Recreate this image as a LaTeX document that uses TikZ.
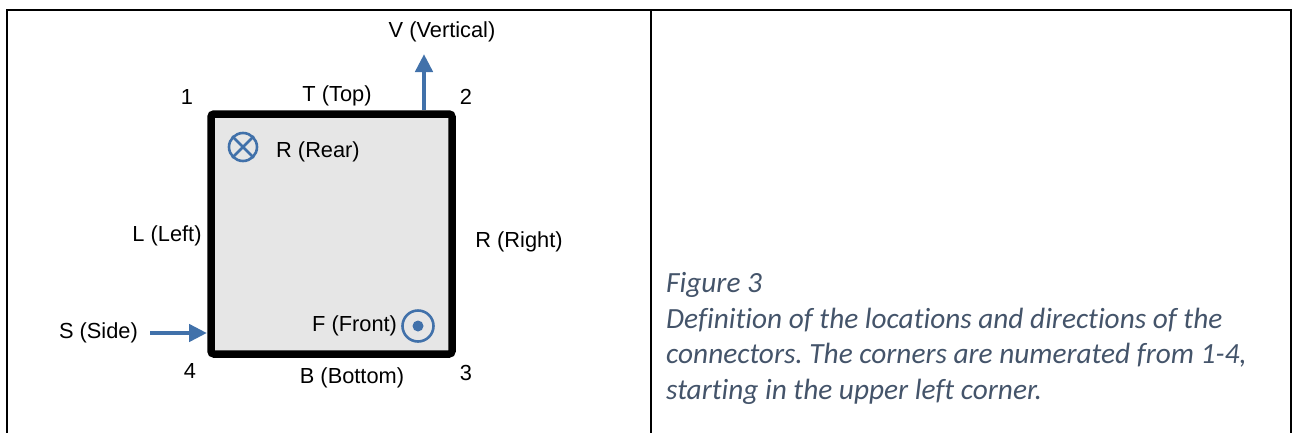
\documentclass[tikz,border=0pt]{standalone}
\usepackage{fontspec}
\setmainfont{Liberation Sans}
\newfontfamily\capfont[Ligatures=NoCommon]{Carlito}
\usepackage{xcolor}
\usepackage{tikz}
\usetikzlibrary{arrows.meta,positioning}
\definecolor{dirblue}{HTML}{4171AA}
\definecolor{capgray}{HTML}{44546A}
\definecolor{platefill}{HTML}{E6E6E6}
\frenchspacing
\tikzset{
  tabline/.style={draw=black, line width=2pt},
  plate/.style={draw=black, line width=7.5pt, rounded corners=3pt, fill=platefill, minimum width=241pt, minimum height=240pt, inner sep=0pt},
  lbl/.style={inner sep=0pt, font=\fontsize{21.8}{26}\selectfont},
  darr/.style={-{Triangle[width=17pt,length=18pt]}, line width=4.5pt, draw=dirblue},
  dirsym/.style={draw=dirblue, line width=2.6pt},
  capbox/.style={inner sep=0pt, align=left, anchor=west, text=capgray, font=\capfont\itshape\fontsize{29.3}{35.5}\selectfont}
}

\begin{document}
\begin{tikzpicture}[x=1pt,y=-1pt]
\useasboundingbox (0,0) rectangle (1296,432);
\draw[tabline] (7,440) -- (7,10) -- (1291,10) -- (1291,440);
\draw[tabline] (651,10) -- (651,440);

\node[plate] (plate) at (331.5,234) {};

\coordinate (vbase) at (424,110);
\coordinate (vtip) at (424,54);
\coordinate (stail) at (150,333);
\coordinate (stip) at (207,333);
\draw[darr] (vbase) -- (vtip);
\draw[darr] (stail) -- (stip);

\node[lbl] (vert) at (442,32) {V (Vertical)};
\node[lbl] (c1) at (187,97) {1};
\node[lbl] (top) at (337,96) {T (Top)};
\node[lbl] (c2) at (466,97) {2};
\node[lbl] (left) at (167,236) {L (Left)};
\node[lbl] (right) at (519,242) {R (Right)};
\node[lbl, left=12pt of stail] (side) {S (Side)};
\node[lbl] (c4) at (190,371) {4};
\node[lbl] (bottom) at (352,378) {B (Bottom)};
\node[lbl] (c3) at (466,373) {3};

\node[dirsym, circle, minimum size=28pt, inner sep=0pt] (rear) at (243,147) {};
\draw[dirsym] (rear.north west) -- (rear.south east) (rear.north east) -- (rear.south west);
\node[lbl] (rearlbl) at (318,152) {R (Rear)};

\node[dirsym, circle, minimum size=31pt, inner sep=0pt] (front) at (418,326) {};
\fill[dirblue] (front.center) circle (5.5pt);
\node[lbl, left=4pt of front] (frontlbl) {F (Front)};

\node[capbox] (caption) at (666,338.5) {Figure 3\\
Definition of the locations and directions of the\\
connectors. The corners are numerated from 1-4,\\
starting in the upper left corner.};
\end{tikzpicture}
\end{document}
